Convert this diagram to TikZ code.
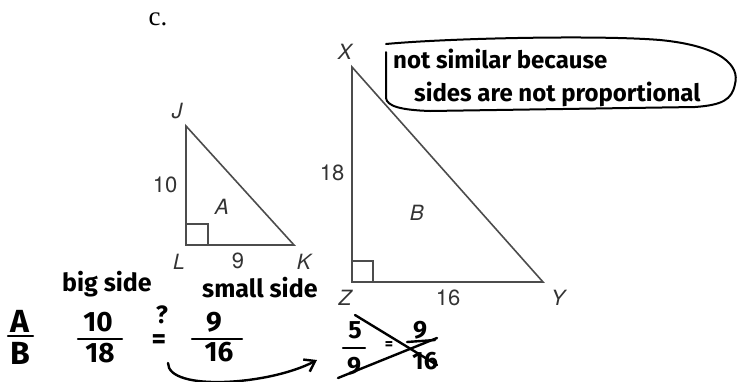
\documentclass[tikz,border=0pt]{standalone}
\usepackage{fontspec}
\setmainfont{TeX Gyre Heros}
\newfontfamily\handfont{Fira Sans}
\newfontfamily\serffont{Liberation Serif}
\usetikzlibrary{arrows.meta, calc}

\tikzset{
  tri/.style={draw=black!70, line width=1.6pt, line join=miter},
  rbox/.style={draw=black!70, line width=1.3pt},
  vlabel/.style={text=black!80, font=\fontsize{21}{21}\selectfont\itshape, inner sep=0pt},
  nlabel/.style={text=black!80, font=\fontsize{22}{22}\selectfont, inner sep=0pt},
  hand/.style={font=\handfont\bfseries\fontsize{25}{25}\selectfont, inner sep=0pt},
  handbig/.style={font=\handfont\bfseries\fontsize{28}{28}\selectfont, inner sep=0pt},
  handline/.style={line width=2.4pt, line cap=round},
}

\begin{document}
\begin{tikzpicture}[x=1pt, y=-1pt]
  \useasboundingbox (0,0) rectangle (737,381);

  \node[font=\serffont\fontsize{27}{27}\selectfont, inner sep=0pt] (part) at (158,19) {c.};

  % Triangle A
  \coordinate (J) at (186,126);
  \coordinate (L) at (186,245);
  \coordinate (K) at (294,245);
  \draw[tri] (J) -- (L) -- (K) -- cycle;
  \draw[rbox] (L) rectangle ++(22,-21);
  \node[vlabel] (lJ) at (177,111) {J};
  \node[vlabel] (lL) at (179,262) {L};
  \node[vlabel] (lK) at (304,262) {K};
  \node[nlabel] (lJL) at (165,185) {10};
  \node[nlabel] (lLK) at (238,261) {9};
  \node[vlabel] (lA) at (222,207) {A};

  % Triangle B
  \coordinate (X) at (352,67);
  \coordinate (Z) at (352,282);
  \coordinate (Y) at (543,282);
  \draw[tri] (X) -- (Z) -- (Y) -- cycle;
  \draw[rbox] (Z) rectangle ++(21,-21);
  \node[vlabel] (lX) at (345,52) {X};
  \node[vlabel] (lZ) at (345,298) {Z};
  \node[vlabel] (lY) at (558,298) {Y};
  \node[nlabel] (lXZ) at (332,173) {18};
  \node[nlabel] (lZY) at (448,298) {16};
  \node[vlabel] (lB) at (417,213) {B};

  % callout
  \draw[handline, line width=2pt]
    (386,44) .. controls (450,38) and (600,35) .. (660,40)
    .. controls (722,46) and (740,66) .. (735,84)
    .. controls (732,100) and (722,105) .. (695,107)
    -- (430,111) .. controls (400,110) and (387,106) .. (386,98) -- (386,52);
  \node[hand, font=\handfont\bfseries\fontsize{24}{24}\selectfont, anchor=base west] (why1) at (393,68) {not similar because};
  \node[hand, font=\handfont\bfseries\fontsize{24}{24}\selectfont, anchor=base west] (why2) at (414,101) {sides are not proportional};

  % side labels
  \node[hand, anchor=base west] (big) at (62,291) {big side};
  \node[hand, anchor=base west] (small) at (202,297) {small side};

  % ratios
  \node[handbig, font=\handfont\bfseries\fontsize{32}{32}\selectfont] (nA) at (20,321) {A};
  \node[handbig, font=\handfont\bfseries\fontsize{32}{32}\selectfont] (dB) at (20,353) {B};
  \draw[handline] (8,336) -- (33,336);
  \node[handbig] (n10) at (98,322) {10};
  \node[handbig] (d18) at (100,353) {18};
  \draw[handline] (78,339) -- (122,339);
  \node[handbig] (eq) at (159,342) {=};
  \node[hand] (qm) at (162,315) {?};
  \node[handbig] (n9) at (214,322) {9};
  \node[handbig] (d16) at (219,352) {16};
  \draw[handline] (192,339) -- (242,339);

  % simplified
  \node[hand] (n5) at (355,330) {5};
  \node[hand] (d9) at (354,366) {9};
  \draw[handline] (343,348) -- (365,348);
  \node[hand, font=\handfont\bfseries\fontsize{16}{16}\selectfont] (eq2) at (389,346) {=};
  \node[hand] (n9b) at (420,330) {9};
  \node[hand] (d16b) at (425,361) {16};
  \draw[handline] (407,342) -- (435,340);
  \draw[handline] (355,315) -- (437,365);
  \draw[handline] (338,378) -- (437,338);

  % arrow
  \coordinate (arrS) at (168,363);
  \coordinate (arrE) at (317,360);
  \draw[handline, -{Straight Barb[angle=70:12pt]}] (arrS) .. controls (168,392) and (270,385) .. (arrE);
\end{tikzpicture}
\end{document}
